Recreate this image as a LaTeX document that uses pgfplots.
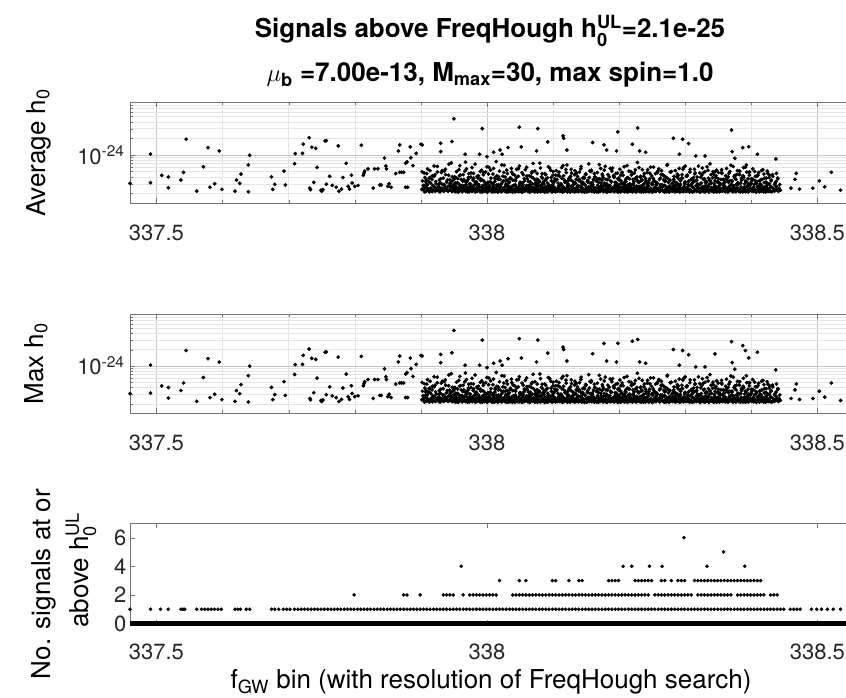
\documentclass[border=0pt]{standalone}
\usepackage{pgfplots}
\pgfplotsset{compat=1.18}
\usepackage{pgfplotstable}
\usepackage{amsmath}
\usepackage{fontspec}
\setmainfont{TeX Gyre Heros}

% h0 values in units of 1e-25
\pgfplotstableread[row sep=\\]{
x a\\
337.905 2.3\\337.906 3.9\\337.907 2.6\\337.908 2.2\\337.909 4.6\\337.910 2.9\\337.911 2.4\\337.912 3.3\\337.913 2.15\\337.914 5.2\\
337.915 2.5\\337.916 2.25\\337.917 3.6\\337.918 2.8\\337.919 2.3\\337.920 4.1\\337.921 2.6\\337.922 2.2\\337.923 3.0\\337.924 2.4\\
337.925 6.2\\337.926 2.35\\337.927 2.7\\337.928 3.5\\337.929 2.15\\337.930 2.5\\337.931 4.8\\337.932 2.3\\337.933 2.9\\337.934 3.8\\
337.935 2.2\\337.936 2.6\\337.937 5.5\\337.938 2.4\\337.939 3.2\\337.940 2.25\\337.941 2.7\\337.942 4.3\\337.943 2.3\\337.944 3.0\\
337.945 2.5\\337.946 7.2\\337.947 2.2\\337.948 3.4\\337.949 2.6\\337.950 2.35\\337.951 4.0\\337.952 2.8\\337.953 2.15\\337.954 5.0\\
337.955 2.4\\337.956 3.1\\337.957 2.2\\337.958 2.9\\337.959 6.4\\337.960 2.3\\337.961 3.6\\337.962 2.5\\337.963 2.25\\337.964 4.4\\
337.965 2.7\\337.966 2.3\\337.967 3.3\\337.968 2.2\\337.969 5.6\\337.970 2.6\\337.971 2.4\\337.972 3.9\\337.973 2.15\\337.974 3.0\\
337.975 2.3\\337.976 4.7\\337.977 2.5\\337.978 2.2\\337.979 3.5\\337.980 2.8\\337.981 2.35\\337.982 6.8\\337.983 2.4\\337.984 3.2\\
337.985 2.2\\337.986 2.9\\337.987 4.2\\337.988 2.3\\337.989 2.6\\337.990 3.7\\337.991 2.15\\337.992 5.3\\337.993 2.5\\337.994 2.8\\
337.995 3.4\\337.996 2.2\\337.997 2.4\\337.998 4.9\\337.999 2.7\\338.000 2.3\\338.001 3.1\\338.002 2.25\\338.003 6.0\\338.004 2.6\\
338.005 2.3\\338.006 3.8\\338.007 2.2\\338.008 2.5\\338.009 4.5\\338.010 2.9\\338.011 2.15\\338.012 3.3\\338.013 2.4\\338.014 7.6\\
338.015 2.6\\338.016 2.2\\338.017 3.6\\338.018 2.35\\338.019 5.1\\338.020 2.7\\338.021 2.4\\338.022 3.0\\338.023 2.2\\338.024 4.1\\
338.025 2.5\\338.026 6.5\\338.027 2.25\\338.028 3.4\\338.029 2.3\\338.030 2.8\\338.031 4.6\\338.032 2.15\\338.033 2.6\\338.034 3.2\\
338.035 2.2\\338.036 2.4\\338.037 5.7\\338.038 2.7\\338.039 3.5\\338.040 2.3\\338.041 2.2\\338.042 4.3\\338.043 2.9\\338.044 2.5\\
338.045 3.9\\338.046 2.2\\338.047 2.6\\338.048 2.35\\338.049 6.3\\338.050 3.1\\338.051 2.4\\338.052 2.15\\338.053 4.8\\338.054 2.7\\
338.055 2.3\\338.056 3.3\\338.057 2.2\\338.058 5.4\\338.059 2.5\\338.060 2.8\\338.061 3.7\\338.062 2.25\\338.063 2.4\\338.064 4.2\\
338.065 2.6\\338.066 2.2\\338.067 4.0\\338.068 2.3\\338.069 3.0\\338.070 7.0\\338.071 2.5\\338.072 2.15\\338.073 3.5\\338.074 2.8\\
338.075 2.2\\338.076 4.6\\338.077 2.4\\338.078 2.7\\338.079 3.2\\338.080 2.35\\338.081 5.8\\338.082 2.2\\338.083 2.9\\338.084 3.8\\
338.085 2.4\\338.086 2.2\\338.087 3.4\\338.088 2.6\\338.089 4.4\\338.090 2.3\\338.091 2.15\\338.092 3.1\\338.093 6.1\\338.094 2.5\\
338.095 2.8\\338.096 2.3\\338.097 3.9\\338.098 2.2\\338.099 2.6\\338.100 5.0\\338.101 2.4\\338.102 3.3\\338.103 2.25\\338.104 4.3\\
338.105 2.3\\338.106 3.6\\338.107 2.2\\338.108 2.5\\338.109 4.9\\338.110 2.7\\338.111 2.35\\338.112 3.0\\338.113 5.9\\338.114 2.15\\
338.115 2.6\\338.116 4.2\\338.117 2.2\\338.118 3.2\\338.119 2.4\\338.120 2.3\\338.121 6.6\\338.122 2.8\\338.123 2.2\\338.124 3.7\\
338.125 2.4\\338.126 2.15\\338.127 3.5\\338.128 4.7\\338.129 2.5\\338.130 2.3\\338.131 2.9\\338.132 2.2\\338.133 5.2\\338.134 3.1\\
338.135 2.2\\338.136 2.6\\338.137 4.1\\338.138 2.3\\338.139 3.4\\338.140 2.25\\338.141 2.7\\338.142 5.6\\338.143 2.4\\338.144 3.0\\
338.145 3.8\\338.146 2.3\\338.147 2.2\\338.148 2.9\\338.149 4.5\\338.150 2.5\\338.151 2.15\\338.152 3.3\\338.153 2.6\\338.154 6.9\\
338.155 2.2\\338.156 3.1\\338.157 2.4\\338.158 5.3\\338.159 2.3\\338.160 2.7\\338.161 3.6\\338.162 2.2\\338.163 4.0\\338.164 2.5\\
338.165 2.3\\338.166 2.15\\338.167 4.8\\338.168 2.6\\338.169 3.2\\338.170 2.4\\338.171 2.2\\338.172 5.7\\338.173 2.8\\338.174 3.5\\
338.175 2.5\\338.176 3.9\\338.177 2.2\\338.178 2.35\\338.179 6.2\\338.180 2.7\\338.181 3.0\\338.182 2.15\\338.183 4.4\\338.184 2.4\\
338.185 2.2\\338.186 2.8\\338.187 3.4\\338.188 2.3\\338.189 5.1\\338.190 2.5\\338.191 2.25\\338.192 4.1\\338.193 2.6\\338.194 3.2\\
338.195 4.6\\338.196 2.2\\338.197 2.4\\338.198 3.7\\338.199 2.3\\338.200 2.9\\338.201 5.5\\338.202 2.15\\338.203 2.6\\338.204 3.1\\
338.205 2.3\\338.206 4.3\\338.207 2.2\\338.208 2.7\\338.209 3.3\\338.210 2.4\\338.211 2.25\\338.212 6.4\\338.213 2.5\\338.214 3.8\\
338.215 2.2\\338.216 3.0\\338.217 2.6\\338.218 5.0\\338.219 2.35\\338.220 2.15\\338.221 3.6\\338.222 2.8\\338.223 4.7\\338.224 2.4\\
338.225 2.5\\338.226 2.2\\338.227 4.0\\338.228 2.3\\338.229 3.2\\338.230 5.9\\338.231 2.2\\338.232 2.7\\338.233 3.4\\338.234 2.3\\
338.235 3.5\\338.236 2.4\\338.237 2.15\\338.238 4.6\\338.239 2.6\\338.240 2.3\\338.241 3.1\\338.242 2.2\\338.243 5.4\\338.244 2.8\\
338.245 2.2\\338.246 3.7\\338.247 2.35\\338.248 2.5\\338.249 4.2\\338.250 2.15\\338.251 2.9\\338.252 6.0\\338.253 2.4\\338.254 3.3\\
338.255 2.6\\338.256 2.2\\338.257 3.0\\338.258 4.8\\338.259 2.3\\338.260 2.5\\338.261 3.6\\338.262 2.25\\338.263 2.7\\338.264 5.2\\
338.265 2.3\\338.266 4.4\\338.267 2.2\\338.268 2.8\\338.269 3.3\\338.270 2.4\\338.271 2.15\\338.272 3.9\\338.273 6.7\\338.274 2.5\\
338.275 2.2\\338.276 2.6\\338.277 3.5\\338.278 2.3\\338.279 5.0\\338.280 2.25\\338.281 3.1\\338.282 2.4\\338.283 4.1\\338.284 2.7\\
338.285 3.2\\338.286 2.3\\338.287 2.2\\338.288 4.5\\338.289 2.5\\338.290 2.8\\338.291 5.7\\338.292 2.15\\338.293 3.4\\338.294 2.4\\
338.295 2.2\\338.296 3.8\\338.297 2.6\\338.298 2.35\\338.299 3.0\\338.300 6.3\\338.301 2.2\\338.302 2.5\\338.303 4.3\\338.304 2.9\\
338.305 2.4\\338.306 2.2\\338.307 4.9\\338.308 2.3\\338.309 3.6\\338.310 2.7\\338.311 2.15\\338.312 3.2\\338.313 2.5\\338.314 5.5\\
338.315 2.3\\338.316 3.4\\338.317 2.2\\338.318 4.0\\338.319 2.6\\338.320 2.25\\338.321 2.9\\338.322 4.7\\338.323 2.4\\338.324 3.1\\
338.325 2.2\\338.326 5.8\\338.327 2.5\\338.328 2.3\\338.329 3.7\\338.330 2.15\\338.331 2.8\\338.332 3.3\\338.333 6.1\\338.334 2.4\\
338.335 2.7\\338.336 2.2\\338.337 3.5\\338.338 2.35\\338.339 4.4\\338.340 2.5\\338.341 2.2\\338.342 5.0\\338.343 2.6\\338.344 3.0\\
338.345 2.3\\338.346 3.9\\338.347 2.15\\338.348 2.6\\338.349 3.2\\338.350 4.8\\338.351 2.4\\338.352 2.2\\338.353 2.9\\338.354 3.6\\
338.355 5.4\\338.356 2.2\\338.357 2.5\\338.358 3.1\\338.359 2.3\\338.360 2.7\\338.361 4.2\\338.362 2.25\\338.363 3.5\\338.364 2.4\\
338.365 2.2\\338.366 4.6\\338.367 2.3\\338.368 2.8\\338.369 6.5\\338.370 2.4\\338.371 3.3\\338.372 2.15\\338.373 2.6\\338.374 4.0\\
338.375 2.5\\338.376 2.2\\338.377 3.6\\338.378 2.35\\338.379 5.2\\338.380 2.9\\338.381 2.2\\338.382 4.4\\338.383 2.4\\338.384 3.1\\
338.385 3.8\\338.386 2.3\\338.387 2.15\\338.388 5.9\\338.389 2.6\\338.390 2.4\\338.391 3.4\\338.392 2.2\\338.393 4.9\\338.394 2.7\\
338.395 2.2\\338.396 3.0\\338.397 4.3\\338.398 2.5\\338.399 2.3\\338.400 3.7\\338.401 2.25\\338.402 5.6\\338.403 2.6\\338.404 2.4\\
338.405 2.3\\338.406 4.1\\338.407 2.2\\338.408 3.3\\338.409 2.7\\338.410 2.4\\338.411 4.8\\338.412 2.15\\338.413 3.0\\338.414 2.5\\
338.415 2.2\\338.416 3.6\\338.417 2.4\\338.418 2.3\\338.419 4.5\\338.420 2.6\\338.421 2.2\\338.422 3.2\\338.423 2.8\\338.424 5.1\\
338.425 2.4\\338.426 2.2\\338.427 3.9\\338.428 2.3\\338.429 2.6\\338.430 3.4\\338.431 2.15\\338.432 4.4\\338.433 2.5\\338.434 2.3\\
338.435 2.2\\338.436 3.1\\338.437 2.4\\338.438 2.7\\338.439 2.3\\338.440 3.8\\338.441 2.2\\338.442 2.5\\338.443 2.9\\338.444 2.3\\
}\bulk

\pgfplotstableread[row sep=\\]{
x a\\
337.9015 2.36\\337.9035 2.81\\337.9055 2.14\\337.9075 3.27\\337.9095 2.52\\337.9115 2.23\\337.9135 3.88\\337.9155 2.44\\337.9175 2.17\\337.9195 2.69\\
337.9215 4.41\\337.9235 2.31\\337.9255 2.58\\337.9275 2.19\\337.9295 3.14\\337.9315 2.47\\337.9335 2.26\\337.9355 5.12\\337.9375 2.63\\337.9395 2.35\\
337.9415 2.21\\337.9435 3.56\\337.9455 2.74\\337.9475 2.18\\337.9495 2.92\\
337.9505 2.47\\337.9515 2.18\\337.9525 3.12\\337.9535 2.63\\337.9545 2.29\\337.9555 3.74\\337.9565 2.12\\337.9575 2.55\\337.9585 4.21\\337.9595 2.38\\
337.9605 2.81\\337.9615 2.24\\337.9625 2.16\\337.9635 3.35\\337.9645 2.69\\337.9655 2.43\\337.9665 5.08\\337.9675 2.21\\337.9685 2.92\\337.9695 2.34\\
337.9705 2.14\\337.9715 3.58\\337.9725 2.52\\337.9735 2.27\\337.9745 2.74\\337.9755 3.96\\337.9765 2.33\\337.9775 2.19\\337.9785 2.61\\337.9795 4.63\\
337.9805 2.41\\337.9815 2.88\\337.9825 2.13\\337.9835 3.27\\337.9845 2.56\\337.9855 2.22\\337.9865 3.81\\337.9875 2.67\\337.9885 2.31\\337.9895 2.17\\
337.9905 3.44\\337.9915 2.28\\337.9925 2.71\\337.9935 2.15\\337.9945 4.37\\337.9955 2.49\\337.9965 2.36\\337.9975 2.98\\337.9985 2.23\\337.9995 2.59\\
338.0005 2.11\\338.0015 3.19\\338.0025 2.45\\338.0035 2.77\\338.0045 2.26\\338.0055 5.31\\338.0065 2.39\\338.0075 2.14\\338.0085 3.06\\338.0095 2.64\\
338.0105 2.32\\338.0115 2.53\\338.0125 3.67\\338.0135 2.19\\338.0145 2.85\\338.0155 2.42\\338.0165 2.12\\338.0175 4.05\\338.0185 2.58\\338.0195 2.27\\
338.0205 2.73\\338.0215 2.16\\338.0225 2.37\\338.0235 3.23\\338.0245 2.49\\338.0255 4.82\\338.0265 2.21\\338.0275 2.66\\338.0285 2.95\\338.0295 2.13\\
338.0305 3.51\\338.0315 2.44\\338.0325 2.25\\338.0335 2.69\\338.0345 2.18\\338.0355 3.88\\338.0365 2.54\\338.0375 2.31\\338.0385 2.12\\338.0395 4.44\\
338.0405 2.35\\338.0415 2.79\\338.0425 2.14\\338.0435 3.41\\338.0445 2.62\\338.0455 2.24\\338.0465 2.48\\338.0475 5.62\\338.0485 2.17\\338.0495 2.86\\
338.0505 2.22\\338.0515 3.15\\338.0525 2.57\\338.0535 2.13\\338.0545 2.91\\338.0555 2.38\\338.0565 3.72\\338.0575 2.46\\338.0585 2.29\\338.0595 2.68\\
338.0605 4.16\\338.0615 2.19\\338.0625 2.43\\338.0635 2.76\\338.0645 2.11\\338.0655 3.29\\338.0665 2.64\\338.0675 2.35\\338.0685 4.97\\338.0695 2.21\\
338.0705 2.56\\338.0715 2.32\\338.0725 3.02\\338.0735 2.18\\338.0745 2.47\\338.0755 3.63\\338.0765 2.14\\338.0775 2.83\\338.0785 2.27\\338.0795 3.37\\
338.0805 2.15\\338.0815 2.71\\338.0825 2.39\\338.0835 4.58\\338.0845 2.23\\338.0855 2.52\\338.0865 2.96\\338.0875 2.12\\338.0885 3.46\\338.0895 2.61\\
338.0905 2.34\\338.0915 3.85\\338.0925 2.17\\338.0935 2.45\\338.0945 2.67\\338.0955 2.26\\338.0965 5.24\\338.0975 2.41\\338.0985 2.13\\338.0995 2.89\\
338.1005 3.13\\338.1015 2.28\\338.1025 2.59\\338.1035 2.16\\338.1045 3.54\\338.1055 2.37\\338.1065 2.21\\338.1075 4.29\\338.1085 2.74\\338.1095 2.44\\
338.1105 2.19\\338.1115 2.93\\338.1125 2.33\\338.1135 3.77\\338.1145 2.12\\338.1155 2.63\\338.1165 2.48\\338.1175 2.25\\338.1185 3.21\\338.1195 5.46\\
338.1205 2.54\\338.1215 2.14\\338.1225 3.39\\338.1235 2.42\\338.1245 2.78\\338.1255 2.18\\338.1265 4.11\\338.1275 2.31\\338.1285 2.65\\338.1295 2.22\\
338.1305 2.87\\338.1315 2.46\\338.1325 2.13\\338.1335 3.05\\338.1345 2.36\\338.1355 4.73\\338.1365 2.27\\338.1375 2.57\\338.1385 2.16\\338.1395 3.62\\
338.1405 2.24\\338.1415 3.31\\338.1425 2.69\\338.1435 2.15\\338.1445 2.51\\338.1455 2.39\\338.1465 3.93\\338.1475 2.12\\338.1485 2.84\\338.1495 4.38\\
338.1505 2.43\\338.1515 2.17\\338.1525 3.48\\338.1535 2.61\\338.1545 2.28\\338.1555 5.15\\338.1565 2.35\\338.1575 2.72\\338.1585 2.19\\338.1595 3.17\\
338.1605 2.66\\338.1615 2.32\\338.1625 2.14\\338.1635 4.02\\338.1645 2.49\\338.1655 2.23\\338.1665 3.36\\338.1675 2.81\\338.1685 2.13\\338.1695 2.55\\
338.1705 3.71\\338.1715 2.21\\338.1725 2.58\\338.1735 2.37\\338.1745 4.49\\338.1755 2.16\\338.1765 2.76\\338.1775 3.09\\338.1785 2.29\\338.1795 2.45\\
338.1805 2.13\\338.1815 2.92\\338.1825 3.57\\338.1835 2.24\\338.1845 2.63\\338.1855 2.41\\338.1865 5.73\\338.1875 2.18\\338.1885 3.26\\338.1895 2.52\\
338.1905 2.36\\338.1915 4.24\\338.1925 2.15\\338.1935 2.79\\338.1945 2.47\\338.1955 3.14\\338.1965 2.22\\338.1975 2.68\\338.1985 2.11\\338.1995 3.83\\
338.2005 2.58\\338.2015 2.27\\338.2025 3.42\\338.2035 2.19\\338.2045 4.86\\338.2055 2.53\\338.2065 2.34\\338.2075 2.97\\338.2085 2.16\\338.2095 2.74\\
338.2105 3.28\\338.2115 2.44\\338.2125 2.12\\338.2135 2.87\\338.2145 2.31\\338.2155 3.69\\338.2165 2.62\\338.2175 2.21\\338.2185 4.33\\338.2195 2.39\\
338.2205 2.18\\338.2215 3.03\\338.2225 2.57\\338.2235 2.26\\338.2245 5.38\\338.2255 2.14\\338.2265 2.73\\338.2275 3.45\\338.2285 2.42\\338.2295 2.23\\
338.2305 2.67\\338.2315 2.35\\338.2325 3.89\\338.2335 2.13\\338.2345 2.49\\338.2355 2.84\\338.2365 2.28\\338.2375 4.12\\338.2385 2.56\\338.2395 2.17\\
338.2405 3.34\\338.2415 2.22\\338.2425 2.46\\338.2435 2.71\\338.2445 3.11\\338.2455 2.15\\338.2465 4.67\\338.2475 2.38\\338.2485 2.25\\338.2495 2.94\\
338.2505 2.12\\338.2515 3.76\\338.2525 2.31\\338.2535 2.55\\338.2545 2.19\\338.2555 3.22\\338.2565 2.83\\338.2575 2.43\\338.2585 5.11\\338.2595 2.27\\
338.2605 2.48\\338.2615 2.16\\338.2625 2.89\\338.2635 4.41\\338.2645 2.34\\338.2655 2.64\\338.2665 2.21\\338.2675 3.53\\338.2685 2.14\\338.2695 2.77\\
338.2705 3.97\\338.2715 2.39\\338.2725 2.23\\338.2735 2.58\\338.2745 3.18\\338.2755 2.13\\338.2765 2.72\\338.2775 4.91\\338.2785 2.45\\338.2795 2.29\\
338.2805 2.19\\338.2815 2.66\\338.2825 3.61\\338.2835 2.32\\338.2845 2.15\\338.2855 2.86\\338.2865 2.47\\338.2875 3.08\\338.2885 2.24\\338.2895 4.27\\
338.2905 2.53\\338.2915 2.12\\338.2925 2.97\\338.2935 2.41\\338.2945 3.79\\338.2955 2.26\\338.2965 5.49\\338.2975 2.17\\338.2985 2.69\\338.2995 3.24\\
338.3005 2.35\\338.3015 4.15\\338.3025 2.21\\338.3035 2.62\\338.3045 2.44\\338.3055 3.37\\338.3065 2.13\\338.3075 2.81\\338.3085 2.28\\338.3095 3.66\\
338.3105 2.14\\338.3115 2.59\\338.3125 3.43\\338.3135 2.18\\338.3145 4.54\\338.3155 2.33\\338.3165 2.76\\338.3175 2.22\\338.3185 3.01\\338.3195 2.49\\
338.3205 2.87\\338.3215 2.27\\338.3225 2.11\\338.3235 3.92\\338.3245 2.52\\338.3255 2.36\\338.3265 2.68\\338.3275 4.78\\338.3285 2.16\\338.3295 2.43\\
338.3305 3.16\\338.3315 2.64\\338.3325 2.25\\338.3335 2.38\\338.3345 5.27\\338.3355 2.12\\338.3365 2.95\\338.3375 3.47\\338.3385 2.31\\338.3395 2.57\\
338.3405 2.23\\338.3415 3.86\\338.3425 2.46\\338.3435 2.14\\338.3445 2.73\\338.3455 2.39\\338.3465 4.19\\338.3475 2.58\\338.3485 2.18\\338.3495 3.32\\
338.3505 2.69\\338.3515 2.15\\338.3525 3.07\\338.3535 2.44\\338.3545 2.28\\338.3555 4.62\\338.3565 2.21\\338.3575 2.83\\338.3585 3.55\\338.3595 2.34\\
338.3605 2.17\\338.3615 2.51\\338.3625 3.73\\338.3635 2.29\\338.3645 2.12\\338.3655 3.19\\338.3665 2.66\\338.3675 5.03\\338.3685 2.37\\338.3695 2.24\\
338.3705 3.41\\338.3715 2.33\\338.3725 2.18\\338.3735 2.78\\338.3745 4.23\\338.3755 2.47\\338.3765 2.15\\338.3775 2.92\\338.3785 2.55\\338.3795 3.12\\
338.3805 2.26\\338.3815 4.46\\338.3825 2.39\\338.3835 2.13\\338.3845 2.64\\338.3855 3.59\\338.3865 2.22\\338.3875 2.41\\338.3885 3.94\\338.3895 2.19\\
338.3905 2.54\\338.3915 2.16\\338.3925 3.28\\338.3935 2.71\\338.3945 2.32\\338.3955 2.14\\338.3965 4.87\\338.3975 2.45\\338.3985 2.86\\338.3995 3.05\\
338.4005 2.21\\338.4015 3.63\\338.4025 2.48\\338.4035 2.17\\338.4045 2.93\\338.4055 2.36\\338.4065 3.38\\338.4075 2.12\\338.4085 4.08\\338.4095 2.59\\
338.4105 2.33\\338.4115 2.74\\338.4125 2.19\\338.4135 3.49\\338.4145 2.28\\338.4155 5.21\\338.4165 2.42\\338.4175 2.61\\338.4185 2.15\\338.4195 3.17\\
338.4205 2.44\\338.4215 2.13\\338.4225 3.81\\338.4235 2.56\\338.4245 2.24\\338.4255 2.97\\338.4265 2.35\\338.4275 4.31\\338.4285 2.18\\338.4295 2.67\\
}\bulkb

\pgfplotstableread[row sep=\\]{
x a\\
337.9025 3.4\\337.9050 4.7\\337.9075 2.9\\337.9100 5.6\\337.9125 3.8\\337.9150 3.1\\337.9175 4.2\\337.9200 6.3\\337.9225 3.3\\337.9250 4.9\\
337.9275 3.0\\337.9300 3.7\\337.9325 5.2\\337.9350 2.9\\337.9375 4.4\\337.9400 3.5\\337.9425 6.8\\337.9450 3.2\\337.9475 4.0\\337.9500 3.6\\
337.9525 3.9\\337.9550 3.1\\337.9575 5.4\\337.9600 4.3\\337.9625 2.8\\337.9650 3.6\\337.9675 7.4\\337.9700 3.3\\337.9725 4.6\\337.9750 3.0\\
337.9775 5.9\\337.9800 3.8\\337.9825 3.2\\337.9850 4.1\\337.9875 2.9\\337.9900 5.0\\337.9925 3.5\\337.9950 4.8\\337.9975 3.1\\338.0000 6.1\\
338.0025 4.5\\338.0050 3.3\\338.0075 3.0\\338.0100 5.7\\338.0125 3.9\\338.0150 4.2\\338.0175 2.9\\338.0200 3.6\\338.0225 6.6\\338.0250 3.4\\
338.0275 4.0\\338.0300 5.3\\338.0325 3.1\\338.0350 3.7\\338.0375 4.9\\338.0400 2.8\\338.0425 3.5\\338.0450 5.5\\338.0475 4.1\\338.0500 3.2\\
338.0525 3.0\\338.0550 4.4\\338.0575 3.6\\338.0600 6.0\\338.0625 3.3\\338.0650 2.9\\338.0675 4.7\\338.0700 3.8\\338.0725 5.1\\338.0750 3.1\\
338.0775 3.5\\338.0800 7.1\\338.0825 4.0\\338.0850 3.2\\338.0875 4.6\\338.0900 3.7\\338.0925 2.8\\338.0950 5.8\\338.0975 3.4\\338.1000 4.3\\
338.1025 3.7\\338.1050 5.2\\338.1075 3.1\\338.1100 4.1\\338.1125 2.9\\338.1150 6.4\\338.1175 3.5\\338.1200 4.8\\338.1225 3.0\\338.1250 3.9\\
338.1275 5.5\\338.1300 3.3\\338.1325 4.4\\338.1350 3.6\\338.1375 2.8\\338.1400 4.9\\338.1425 6.2\\338.1450 3.2\\338.1475 3.8\\338.1500 4.5\\
338.1525 3.2\\338.1550 3.9\\338.1575 5.0\\338.1600 2.9\\338.1625 4.6\\338.1650 3.4\\338.1675 3.7\\338.1700 6.7\\338.1725 3.1\\338.1750 4.2\\
338.1775 5.3\\338.1800 3.6\\338.1825 2.8\\338.1850 4.0\\338.1875 3.3\\338.1900 5.8\\338.1925 3.9\\338.1950 3.0\\338.1975 4.7\\338.2000 3.5\\
338.2025 4.3\\338.2050 3.0\\338.2075 6.1\\338.2100 3.6\\338.2125 3.9\\338.2150 5.1\\338.2175 2.9\\338.2200 4.5\\338.2225 3.3\\338.2250 3.8\\
338.2275 7.3\\338.2300 3.2\\338.2325 4.1\\338.2350 5.4\\338.2375 3.0\\338.2400 3.7\\338.2425 4.8\\338.2450 3.4\\338.2475 6.0\\338.2500 3.1\\
338.2525 3.5\\338.2550 4.6\\338.2575 3.1\\338.2600 5.6\\338.2625 3.8\\338.2650 2.9\\338.2675 4.2\\338.2700 3.4\\338.2725 6.5\\338.2750 3.6\\
338.2775 4.9\\338.2800 3.0\\338.2825 3.3\\338.2850 5.2\\338.2875 4.0\\338.2900 3.7\\338.2925 2.8\\338.2950 4.4\\338.2975 5.9\\338.3000 3.2\\
338.3025 4.1\\338.3050 3.3\\338.3075 5.5\\338.3100 3.0\\338.3125 3.9\\338.3150 4.7\\338.3175 3.5\\338.3200 6.3\\338.3225 2.9\\338.3250 4.3\\
338.3275 3.6\\338.3300 5.0\\338.3325 3.2\\338.3350 3.8\\338.3375 6.9\\338.3400 3.1\\338.3425 4.5\\338.3450 3.4\\338.3475 5.3\\338.3500 3.7\\
338.3525 3.0\\338.3550 4.8\\338.3575 3.6\\338.3600 3.2\\338.3625 5.7\\338.3650 4.0\\338.3675 3.4\\338.3700 2.9\\338.3725 6.2\\338.3750 3.8\\
338.3775 4.4\\338.3800 3.1\\338.3825 5.1\\338.3850 3.5\\338.3875 4.2\\338.3900 3.0\\338.3925 6.6\\338.3950 3.7\\338.3975 4.9\\338.4000 3.3\\
338.4025 3.6\\338.4050 5.0\\338.4075 3.1\\338.4100 4.3\\338.4125 3.4\\338.4150 2.9\\338.4175 5.4\\338.4200 3.8\\338.4225 3.2\\338.4250 4.6\\
338.4275 3.0\\338.4300 3.5\\338.4325 4.1\\338.4350 2.9\\338.4375 3.3\\338.4400 3.7\\
}\bulkc

\pgfplotstableread[row sep=\\]{
x a m\\
337.460 3.06 3.06\\337.491 10.4 10.4\\337.491 3.14 3.14\\337.508 4.27 4.27\\337.518 3.98 3.98\\
337.518 2.55 2.55\\337.537 3.51 3.51\\337.541 4.84 4.84\\337.545 19.3 19.3\\337.561 2.21 2.21\\
337.571 6.1 6.1\\337.578 13.6 13.6\\337.581 2.6 2.6\\337.588 3.0 3.0\\337.595 11.8 11.8\\
337.599 2.38 2.38\\337.619 2.21 2.21\\337.621 3.5 3.5\\337.626 3.06 3.06\\337.628 4.5 4.5\\
337.639 2.15 2.15\\337.639 6.6 6.6\\337.641 9.9 9.9\\337.674 4.0 4.0\\337.676 2.38 2.38\\
337.679 2.94 2.94\\337.693 5.1 5.1\\337.695 2.85 2.85\\337.709 6.95 6.95\\337.710 10.6 10.6\\
337.721 10.7 10.7\\337.722 15.7 15.7\\337.731 20.6 20.6\\337.735 13.8 13.8\\337.741 13.2 13.2\\
337.743 5.94 5.94\\337.732 2.5 2.5\\337.733 2.35 2.35\\337.738 3.19 3.19\\337.749 2.3 2.3\\
337.750 2.2 2.2\\337.752 2.35 2.35\\337.755 17.9 17.9\\337.757 18.2 18.2\\337.757 2.94 2.94\\
337.762 4.1 4.1\\337.766 2.8 2.8\\337.772 2.6 2.6\\337.776 2.2 2.2\\337.780 2.4 2.4\\
337.775 14.6 14.6\\337.782 3.9 3.9\\337.787 7.05 7.05\\337.790 2.7 2.7\\337.792 2.4 2.4\\
337.795 4.3 4.3\\337.796 3.1 3.1\\337.800 2.7 2.7\\337.805 2.8 2.8\\337.810 15.0 15.0\\
337.813 4.3 4.3\\337.814 4.7 4.7\\337.815 5.1 5.1\\337.820 5.6 5.6\\337.828 2.5 2.5\\
337.830 5.6 5.6\\337.835 5.6 5.6\\337.838 2.85 2.85\\337.840 2.85 2.85\\337.845 8.8 8.8\\
337.847 6.3 6.3\\337.848 5.6 5.6\\337.850 2.7 2.7\\337.852 3.0 3.0\\337.855 2.6 2.6\\
337.862 4.6 4.6\\337.866 11.8 11.8\\337.868 15.2 15.2\\337.868 4.85 4.85\\337.871 4.85 4.85\\
337.874 4.85 4.85\\337.877 7.1 7.1\\337.879 7.5 7.5\\337.877 2.6 2.6\\337.880 2.6 2.6\\
337.884 14.0 14.0\\337.885 8.9 8.9\\337.888 6.4 6.4\\337.893 10.7 10.7\\337.900 15.6 15.6\\
337.902 4.95 4.95\\337.903 2.4 2.4\\337.904 2.5 2.5\\337.908 3.5 3.5\\337.902 15.2 15.2\\
337.930 16.3 16.3\\337.930 11.5 11.5\\337.947 17.5 17.5\\337.950 45.3 45.3\\337.967 10.3 10.3\\
337.989 10.3 10.3\\337.993 30.0 30.0\\338.000 9.3 9.3\\338.010 11.2 11.2\\338.020 12.3 12.3\\
338.023 10.3 10.3\\338.032 13.6 13.6\\338.049 31.9 31.9\\338.052 14.0 14.0\\338.075 11.8 11.8\\
338.077 30.0 30.0\\338.092 17.2 17.2\\338.115 22.2 22.2\\338.116 20.1 20.1\\338.121 12.3 12.3\\
338.160 16.8 16.8\\338.177 15.2 26.0\\338.181 12.3 12.3\\338.196 11.8 11.8\\338.198 26.2 26.2\\
338.220 15.6 28.6\\338.228 30.9 30.9\\338.231 11.8 11.8\\338.240 11.2 11.2\\338.282 20.1 20.1\\
338.291 10.3 10.3\\338.296 19.3 19.3\\338.305 16.1 16.1\\338.316 9.6 9.6\\338.330 9.6 9.6\\
338.345 5.0 16.7\\338.370 28.2 28.2\\338.371 11.5 11.5\\338.375 8.7 8.7\\338.387 13.6 23.8\\
338.391 6.0 19.2\\338.396 14.1 14.1\\338.409 10.3 17.9\\338.437 8.46 8.46\\338.438 4.64 4.64\\
338.460 2.5 2.5\\338.466 3.6 3.6\\338.468 4.64 4.64\\338.473 2.4 2.4\\338.493 2.5 2.5\\
338.503 3.4 3.4\\338.511 2.65 2.65\\338.521 4.84 4.84\\338.535 2.3 2.3\\
}\sparse

\begin{document}
\begin{tikzpicture}[x=1pt,y=1pt]
\path[use as bounding box] (0,0) rectangle (846,-698);

% titles
\node[anchor=base, font=\bfseries\fontsize{26}{30}\selectfont] at (490,-38)
  {Signals above FreqHough h$_{\text{0}}^{\text{UL}}$=2.1e-25};
\node[anchor=base, font=\bfseries\fontsize{26}{30}\selectfont] at (490,-82)
  {$\mu_{\text{b}}$ =7.00e-13, M$_{\text{max}}$=30, max spin=1.0};

% panel 1: average h0
\begin{axis}[at={(130pt,-203.3pt)}, anchor=south west, height=101pt,
    scale only axis, width=716pt, xmin=337.46, xmax=338.5432,
    separate axis lines, axis x line*=box, axis y line*=left,
    axis line style={black!55, line width=0.8pt, -},
    xtick={337.5,338,338.5}, xticklabels={337.5,338,338.5},
    tick label style={font=\fontsize{22}{26}\selectfont, text=black!85},
    tick style={black!55},
    major tick length=5pt, minor tick length=3pt,
    ymode=log, ymin=1.33, ymax=90,
    ytick={10}, yticklabels={10\textsuperscript{-24}},
    minor ytick={2,3,4,5,6,7,8,9,20,30,40,50,60,70,80},
    minor xtick={337.6,337.7,337.8,337.9,338.1,338.2,338.3,338.4},
    grid=both, major grid style={black!22}, minor grid style={black!10},
    xticklabel shift=18pt, yticklabel shift=2pt]
\addplot[only marks, mark=*, mark size=1.7pt, black] table[x=x, y=a] {\bulk};
\addplot[only marks, mark=*, mark size=1.7pt, black] table[x=x, y=a] {\bulkb};
\addplot[only marks, mark=*, mark size=1.7pt, black] table[x=x, y=a] {\bulkc};
\addplot[only marks, mark=*, mark size=1.7pt, black] table[x=x, y=a] {\sparse};
\end{axis}
\node[rotate=90, anchor=base, font=\fontsize{26}{30}\selectfont] at (45,-152.8) {Average h$_{\text{0}}$};

% panel 2: max h0
\begin{axis}[at={(130pt,-413.3pt)}, anchor=south west, height=99pt,
    scale only axis, width=716pt, xmin=337.46, xmax=338.5432,
    separate axis lines, axis x line*=box, axis y line*=left,
    axis line style={black!55, line width=0.8pt, -},
    xtick={337.5,338,338.5}, xticklabels={337.5,338,338.5},
    tick label style={font=\fontsize{22}{26}\selectfont, text=black!85},
    tick style={black!55},
    major tick length=5pt, minor tick length=3pt,
    ymode=log, ymin=1.33, ymax=90,
    ytick={10}, yticklabels={10\textsuperscript{-24}},
    minor ytick={2,3,4,5,6,7,8,9,20,30,40,50,60,70,80},
    minor xtick={337.6,337.7,337.8,337.9,338.1,338.2,338.3,338.4},
    grid=both, major grid style={black!22}, minor grid style={black!10},
    xticklabel shift=18pt, yticklabel shift=2pt]
\addplot[only marks, mark=*, mark size=1.7pt, black] table[x=x, y=a] {\bulk};
\addplot[only marks, mark=*, mark size=1.7pt, black] table[x=x, y=a] {\bulkb};
\addplot[only marks, mark=*, mark size=1.7pt, black] table[x=x, y=a] {\bulkc};
\addplot[only marks, mark=*, mark size=1.7pt, black] table[x=x, y=m] {\sparse};
\end{axis}
\node[rotate=90, anchor=base, font=\fontsize{26}{30}\selectfont] at (43,-363.8) {Max h$_{\text{0}}$};

% panel 3: number of signals
\begin{axis}[at={(130pt,-625pt)}, anchor=south west, height=101.7pt,
    scale only axis, width=716pt, xmin=337.46, xmax=338.5432,
    separate axis lines, axis x line*=box, axis y line*=left,
    axis line style={black!55, line width=0.8pt, -},
    xtick={337.5,338,338.5}, xticklabels={337.5,338,338.5},
    tick label style={font=\fontsize{22}{26}\selectfont, text=black!85},
    tick style={black!55},
    major tick length=5pt, minor tick length=3pt,
    ymin=-0.1, ymax=7, ytick={0,2,4,6}, yticklabels={0,2,4,6},
    clip=false, xticklabel shift=15pt]
\addplot[black, line width=4.5pt] coordinates {(337.46,0) (338.5432,0)};
\addplot[only marks, mark=*, mark size=1.6pt, black] coordinates {
(337.460,1) (337.491,1) (337.506,1) (337.518,1) (337.537,1) (337.540,1) (337.543,1) (337.561,1)
(337.568,1) (337.573,1) (337.578,1) (337.583,1) (337.588,1) (337.593,1) (337.598,1) (337.619,1)
(337.623,1) (337.627,1) (337.636,1) (337.641,1) (337.674,1) (337.679,1) (337.685,1) (337.692,1)
(337.697,1) (337.702,1) (337.709,1) (337.714,1) (337.719,1) (337.724,1) (337.729,1)
(337.734,1) (337.739,1) (337.744,1) (337.749,1) (337.754,1) (337.759,1) (337.764,1) (337.769,1) (337.774,1) (337.779,1)
(337.784,1) (337.789,1) (337.794,1) (337.799,1) (337.804,1) (337.809,1) (337.814,1) (337.819,1) (337.824,1) (337.829,1)
(337.834,1) (337.839,1) (337.844,1) (337.849,1) (337.854,1) (337.859,1) (337.864,1) (337.869,1) (337.874,1) (337.879,1)
(337.884,1) (337.889,1) (337.894,1) (337.899,1) (337.904,1) (337.909,1) (337.914,1) (337.919,1) (337.924,1) (337.929,1)
(337.934,1) (337.939,1) (337.944,1) (337.949,1) (337.954,1) (337.959,1) (337.964,1) (337.969,1) (337.974,1) (337.979,1)
(337.984,1) (337.989,1) (337.994,1) (337.999,1) (338.004,1) (338.009,1) (338.014,1) (338.019,1) (338.024,1) (338.029,1)
(338.034,1) (338.039,1) (338.044,1) (338.049,1) (338.054,1) (338.059,1) (338.064,1) (338.069,1) (338.074,1) (338.079,1)
(338.084,1) (338.089,1) (338.094,1) (338.099,1) (338.104,1) (338.109,1) (338.114,1) (338.119,1) (338.124,1) (338.129,1)
(338.134,1) (338.139,1) (338.144,1) (338.149,1) (338.154,1) (338.159,1) (338.164,1) (338.169,1) (338.174,1) (338.179,1)
(338.184,1) (338.189,1) (338.194,1) (338.199,1) (338.204,1) (338.209,1) (338.214,1) (338.219,1) (338.224,1) (338.229,1)
(338.234,1) (338.239,1) (338.244,1) (338.249,1) (338.254,1) (338.259,1) (338.264,1) (338.269,1) (338.274,1) (338.279,1)
(338.284,1) (338.289,1) (338.294,1) (338.299,1) (338.304,1) (338.309,1) (338.314,1) (338.319,1) (338.324,1) (338.329,1)
(338.334,1) (338.339,1) (338.344,1) (338.349,1) (338.354,1) (338.359,1) (338.364,1) (338.369,1) (338.374,1) (338.379,1)
(338.384,1) (338.389,1) (338.394,1) (338.399,1) (338.404,1) (338.409,1) (338.414,1) (338.419,1) (338.424,1) (338.429,1)
(338.434,1) (338.439,1) (338.444,1) (338.449,1)
(338.459,1) (338.464,1) (338.469,1) (338.474,1)
(338.491,1) (338.499,1) (338.506,1) (338.515,1) (338.524,1) (338.535,1)
(337.799,2) (337.874,2) (337.879,2) (337.899,2) (337.934,2) (337.939,2) (337.944,2) (337.949,2)
(337.964,2) (337.974,2) (337.979,2) (337.984,2) (337.989,2) (337.994,2) (337.999,2) (338.004,2) (338.009,2) (338.014,2)
(338.039,2) (338.044,2) (338.049,2) (338.054,2) (338.059,2) (338.064,2) (338.069,2) (338.074,2) (338.079,2) (338.084,2)
(338.089,2) (338.094,2) (338.099,2) (338.104,2) (338.109,2) (338.114,2) (338.119,2) (338.124,2) (338.129,2) (338.134,2)
(338.139,2) (338.144,2) (338.149,2) (338.154,2) (338.159,2) (338.164,2) (338.169,2) (338.174,2) (338.179,2) (338.184,2)
(338.189,2) (338.194,2) (338.199,2) (338.204,2) (338.209,2) (338.214,2) (338.219,2) (338.224,2) (338.229,2) (338.234,2)
(338.239,2) (338.244,2) (338.254,2) (338.259,2) (338.264,2) (338.269,2) (338.274,2) (338.279,2) (338.284,2) (338.289,2)
(338.294,2) (338.299,2) (338.304,2) (338.309,2) (338.319,2) (338.324,2) (338.329,2) (338.334,2) (338.339,2) (338.344,2)
(338.349,2) (338.354,2) (338.359,2) (338.364,2) (338.369,2) (338.379,2) (338.384,2) (338.389,2) (338.394,2) (338.399,2)
(338.404,2) (338.409,2) (338.414,2) (338.419,2) (338.429,2) (338.434,2) (338.439,2)
(338.019,3) (338.049,3) (338.059,3) (338.099,3) (338.104,3) (338.124,3) (338.139,3) (338.144,3) (338.184,3) (338.189,3)
(338.194,3) (338.199,3) (338.224,3) (338.229,3) (338.234,3) (338.239,3) (338.244,3) (338.249,3) (338.264,3) (338.269,3)
(338.279,3) (338.289,3) (338.294,3) (338.299,3) (338.314,3) (338.319,3) (338.324,3) (338.329,3) (338.334,3) (338.339,3)
(338.344,3) (338.349,3) (338.354,3) (338.359,3) (338.364,3) (338.369,3) (338.374,3) (338.379,3) (338.384,3) (338.389,3)
(338.394,3) (338.399,3) (338.404,3) (338.409,3) (338.414,3)
(337.961,4) (338.206,4) (338.219,4) (338.246,4) (338.265,4) (338.333,4) (338.390,4)
(338.358,5) (338.298,6)
};
\end{axis}
\node[rotate=90, anchor=base, font=\fontsize{26}{30}\selectfont] at (50,-584) {No. signals at or};
\node[rotate=90, anchor=base, font=\fontsize{26}{30}\selectfont] at (88,-570) {above h$_{\text{0}}^{\text{UL}}$};

% x label
\node[anchor=base, font=\fontsize{26}{30}\selectfont] at (491,-688)
  {f$_{\text{GW}}$ bin (with resolution of FreqHough search)};
\end{tikzpicture}
\end{document}
